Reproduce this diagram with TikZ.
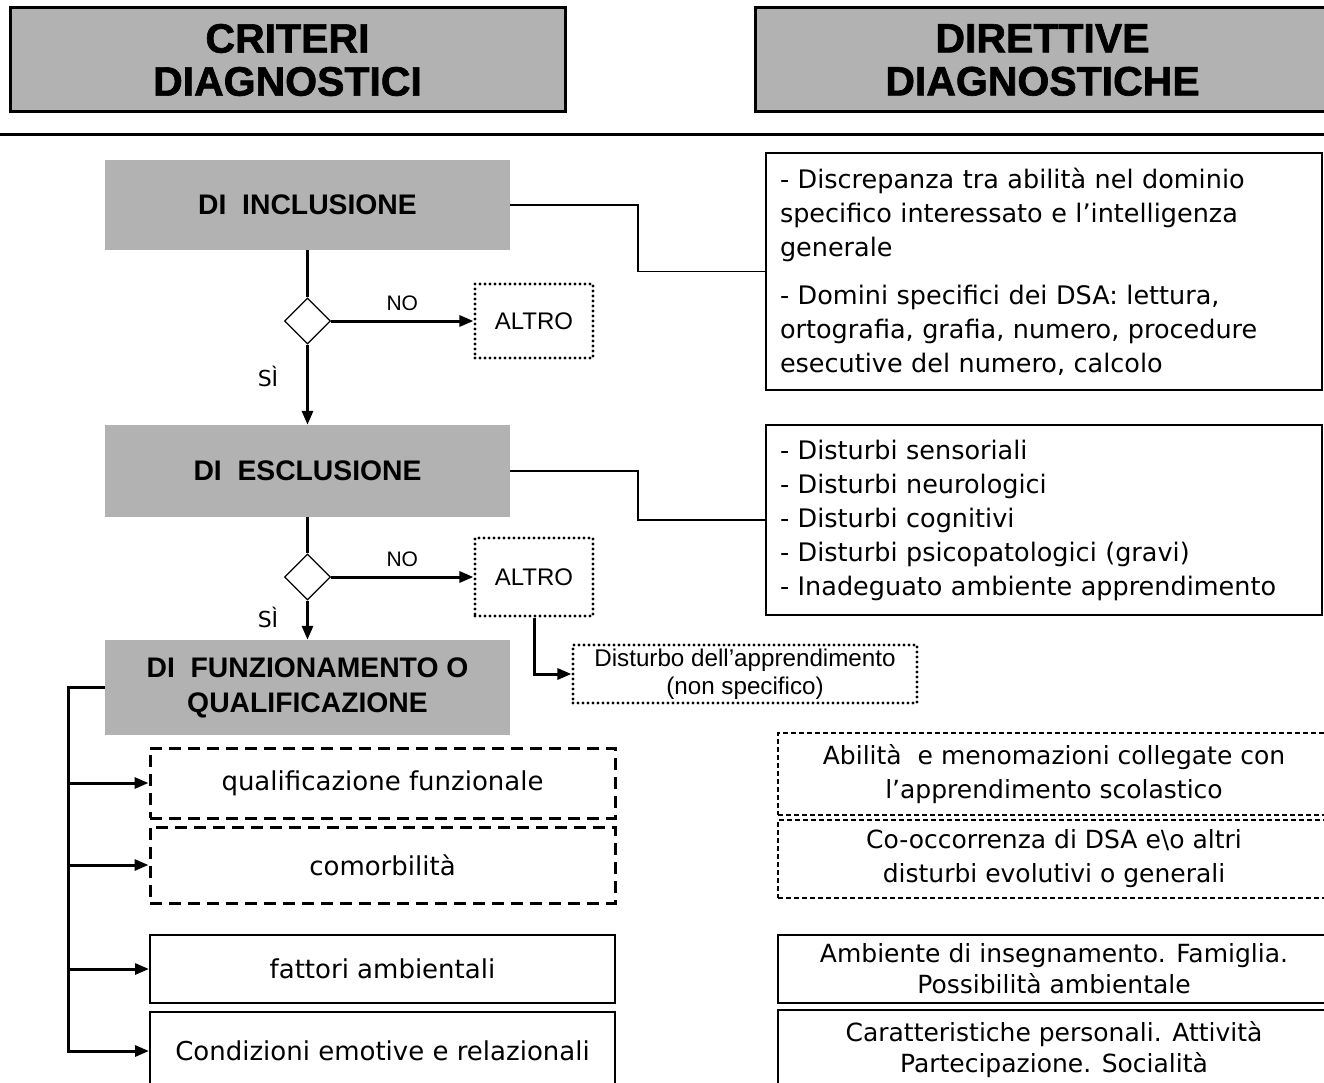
\documentclass[tikz,border=0pt]{standalone}
\usepackage{fontspec}
\setmainfont{Liberation Sans}
\newfontfamily\heavy[BoldFeatures={FakeBold=1.6}]{Liberation Sans}
\newfontfamily\comic{DejaVu Sans}
\usetikzlibrary{shapes.geometric,arrows.meta,calc}
\definecolor{boxgray}{RGB}{178,178,178}
\tikzset{
  hdr/.style={draw, line width=3pt, fill=boxgray, align=center, inner sep=0pt,
    font=\heavy\bfseries\fontsize{41}{43}\selectfont},
  gbox/.style={fill=boxgray, align=center, inner sep=0pt,
    font=\bfseries\fontsize{28.3}{35}\selectfont},
  dotbox/.style={draw, line width=3.2pt, dash pattern=on 0pt off 5pt, line cap=round,
    align=center, inner sep=0pt},
  choice/.style={draw, shape=diamond, aspect=1, line width=1.2pt, fill=white,
    minimum width=46pt, minimum height=46pt, inner sep=0pt},
  flow/.style={line width=3pt, -{Triangle[length=14pt,width=11pt]}},
  thinlink/.style={line width=1.2pt},
  listbox/.style={draw, line width=1.2pt, align=left, inner xsep=14pt, inner ysep=0pt,
    font=\comic\fontsize{25.5}{34}\selectfont},
  leftdash/.style={draw, line width=3pt, dash pattern=on 12pt off 7pt, align=center,
    inner sep=0pt, font=\comic\fontsize{26}{32}\selectfont},
  leftsolid/.style={draw, line width=2pt, align=center,
    inner sep=0pt, font=\comic\fontsize{26}{32}\selectfont},
  rightdash/.style={draw, line width=1.2pt, dash pattern=on 5pt off 3pt, align=center,
    inner sep=0pt, font=\comic\fontsize{25}{34}\selectfont},
  rightsolid/.style={draw, line width=1.2pt, align=center,
    inner sep=0pt, font=\comic\fontsize{25}{31}\selectfont},
  lbl/.style={inner sep=0pt, font=\fontsize{21}{22}\selectfont},
  silbl/.style={inner sep=0pt, font=\comic\fontsize{22}{24}\selectfont}
}
\begin{document}
\begin{tikzpicture}[x=1pt,y=-1pt]
\useasboundingbox (0,0) rectangle (1324,1083);

% headers
\node[hdr, minimum width=555pt, minimum height=104pt] (hl) at (287.5,60) {CRITERI\\DIAGNOSTICI};
\node[hdr, minimum width=575pt, minimum height=104pt] (hr) at (1042.5,60) {DIRETTIVE\\DIAGNOSTICHE};
\draw[line width=3pt] (0,135) -- (1324,135);

% grey criteria boxes
\node[gbox, minimum width=405pt, minimum height=90pt] (g1) at (307.5,205) {DI~~INCLUSIONE};
\node[gbox, minimum width=405pt, minimum height=92pt] (g2) at (307.5,471) {DI~~ESCLUSIONE};
\node[gbox, minimum width=405pt, minimum height=95pt] (g3) at (307.5,687.5) {\raisebox{-4pt}{\parbox{400pt}{\centering DI~~FUNZIONAMENTO O\\QUALIFICAZIONE}}};

% decisions
\node[choice] (d1) at (307.5,321) {};
\node[choice] (d2) at (307.5,577) {};
\node[dotbox, minimum width=118pt, minimum height=74pt, font=\fontsize{24}{26}\selectfont] (a1) at (534,321) {ALTRO};
\node[dotbox, minimum width=118pt, minimum height=78pt, font=\fontsize{24}{26}\selectfont] (a2) at (534,577) {ALTRO};
\node[dotbox, minimum width=344pt, minimum height=58pt, font=\fontsize{24.2}{28}\selectfont] (ds) at (745,674) {Disturbo dell’apprendimento\\(non specifico)};

\draw[line width=3pt] (g1.south) -- (d1.north);
\draw[flow] (d1.south) -- (g2.north);
\draw[flow] (d1.east) -- node[lbl, above=9pt] (no1) {NO} (a1.west);
\node[silbl] (si1) at (268,376) {SÌ};

\draw[line width=3pt] (g2.south) -- (d2.north);
\draw[flow] (d2.south) -- (g3.north);
\draw[flow] (d2.east) -- node[lbl, above=9pt] (no2) {NO} (a2.west);
\node[silbl] (si2) at (268,617) {SÌ};
\draw[flow] (a2.south) |- (ds.west);

% right description boxes
\node[listbox, text width=528pt, minimum height=237pt] (r1) at (1044,271.5) {%
- Discrepanza tra abilità nel dominio\\
specifico interessato e l’intelligenza\\
generale\\[14pt]
- Domini specifici dei DSA: lettura,\\
ortografia, grafia, numero, procedure\\
esecutive del numero, calcolo};
\node[listbox, text width=528pt, minimum height=190pt] (r2) at (1044,520) {%
\raisebox{-5pt}{\parbox{528pt}{- Disturbi sensoriali\\
- Disturbi neurologici\\
- Disturbi cognitivi\\
- Disturbi psicopatologici (gravi)\\
- Inadeguato ambiente apprendimento}}};

\coordinate (k1) at (638,240);
\coordinate (k2) at (638,500);
\draw[thinlink] (g1.east) -| (k1) |- (r1.west);
\draw[thinlink] (g2.east) -| (k2) |- (r2.west);

% functioning column
\node[leftdash, minimum width=465pt, minimum height=70pt] (q) at (382.5,783) {qualificazione funzionale};
\node[leftdash, minimum width=465pt, minimum height=76pt] (c) at (382.5,865) {comorbilità};
\node[leftsolid, minimum width=465pt, minimum height=68pt] (f) at (382.5,969) {fattori ambientali};
\node[leftsolid, minimum width=465pt, minimum height=78pt] (e) at (382.5,1051) {Condizioni emotive e relazionali};

\coordinate (bb) at (68,1051);
\draw[flow] (g3.west) -| (bb) -- (e.west);
\draw[flow] (bb |- q.west) -- (q.west);
\draw[flow] (bb |- c.west) -- (c.west);
\draw[flow] (bb |- f.west) -- (f.west);

% right directive boxes
\node[rightdash, minimum width=552pt, minimum height=82pt] (r3) at (1054,774) {Abilità~ e menomazioni collegate con\\l’apprendimento scolastico};
\node[rightdash, minimum width=552pt, minimum height=78pt] (r4) at (1054,859) {Co-occorrenza di DSA e\textbackslash o altri\\disturbi evolutivi o generali};
\node[rightsolid, minimum width=552pt, minimum height=68pt] (r5) at (1054,969) {Ambiente di insegnamento. Famiglia.\\Possibilità ambientale};
\node[rightsolid, minimum width=552pt, minimum height=80pt] (r6) at (1054,1050) {Caratteristiche personali. Attività\\Partecipazione. Socialità};
\end{tikzpicture}
\end{document}
